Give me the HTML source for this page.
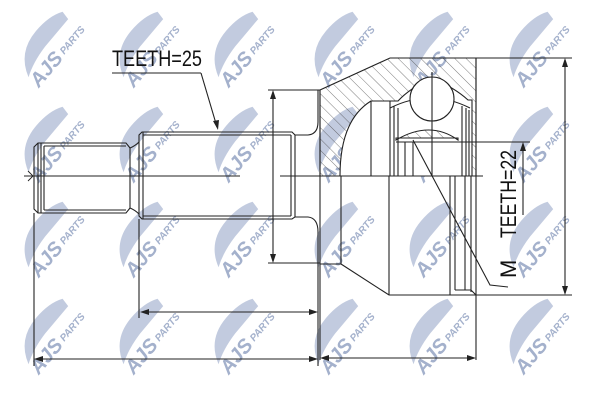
<!DOCTYPE html>
<html><head><meta charset="utf-8"><style>
html,body{margin:0;padding:0;background:#fff}
svg{display:block}
.wm text{font-family:"Liberation Sans",sans-serif;font-weight:bold;font-style:italic;fill:#a4b1cc}
</style></head><body>
<svg width="600" height="400" viewBox="0 0 600 400" xmlns="http://www.w3.org/2000/svg">
<defs>
<pattern id="hatch" width="8" height="8" patternUnits="userSpaceOnUse" patternTransform="rotate(-45)">
<line x1="0" y1="0" x2="0" y2="8" stroke="#444" stroke-width="0.7"/>
</pattern>
</defs>
<g class="wm">
<g transform="translate(55,55) rotate(-50)"><path d="M-34,-6 Q-22,-30 6,-30 Q26,-30 38,-22 L36,-13 L0,-13 Q-20,-12 -34,-6 Z" fill="#c2cbdf"/><text x="-36" y="9" font-size="20">AJS</text><text x="6" y="7" font-size="10">PARTS</text></g>
<g transform="translate(150,55) rotate(-50)"><path d="M-34,-6 Q-22,-30 6,-30 Q26,-30 38,-22 L36,-13 L0,-13 Q-20,-12 -34,-6 Z" fill="#c2cbdf"/><text x="-36" y="9" font-size="20">AJS</text><text x="6" y="7" font-size="10">PARTS</text></g>
<g transform="translate(245,55) rotate(-50)"><path d="M-34,-6 Q-22,-30 6,-30 Q26,-30 38,-22 L36,-13 L0,-13 Q-20,-12 -34,-6 Z" fill="#c2cbdf"/><text x="-36" y="9" font-size="20">AJS</text><text x="6" y="7" font-size="10">PARTS</text></g>
<g transform="translate(345,55) rotate(-50)"><path d="M-34,-6 Q-22,-30 6,-30 Q26,-30 38,-22 L36,-13 L0,-13 Q-20,-12 -34,-6 Z" fill="#c2cbdf"/><text x="-36" y="9" font-size="20">AJS</text><text x="6" y="7" font-size="10">PARTS</text></g>
<g transform="translate(440,55) rotate(-50)"><path d="M-34,-6 Q-22,-30 6,-30 Q26,-30 38,-22 L36,-13 L0,-13 Q-20,-12 -34,-6 Z" fill="#c2cbdf"/><text x="-36" y="9" font-size="20">AJS</text><text x="6" y="7" font-size="10">PARTS</text></g>
<g transform="translate(540,55) rotate(-50)"><path d="M-34,-6 Q-22,-30 6,-30 Q26,-30 38,-22 L36,-13 L0,-13 Q-20,-12 -34,-6 Z" fill="#c2cbdf"/><text x="-36" y="9" font-size="20">AJS</text><text x="6" y="7" font-size="10">PARTS</text></g>
<g transform="translate(55,150) rotate(-50)"><path d="M-34,-6 Q-22,-30 6,-30 Q26,-30 38,-22 L36,-13 L0,-13 Q-20,-12 -34,-6 Z" fill="#c2cbdf"/><text x="-36" y="9" font-size="20">AJS</text><text x="6" y="7" font-size="10">PARTS</text></g>
<g transform="translate(150,150) rotate(-50)"><path d="M-34,-6 Q-22,-30 6,-30 Q26,-30 38,-22 L36,-13 L0,-13 Q-20,-12 -34,-6 Z" fill="#c2cbdf"/><text x="-36" y="9" font-size="20">AJS</text><text x="6" y="7" font-size="10">PARTS</text></g>
<g transform="translate(245,150) rotate(-50)"><path d="M-34,-6 Q-22,-30 6,-30 Q26,-30 38,-22 L36,-13 L0,-13 Q-20,-12 -34,-6 Z" fill="#c2cbdf"/><text x="-36" y="9" font-size="20">AJS</text><text x="6" y="7" font-size="10">PARTS</text></g>
<g transform="translate(345,150) rotate(-50)"><path d="M-34,-6 Q-22,-30 6,-30 Q26,-30 38,-22 L36,-13 L0,-13 Q-20,-12 -34,-6 Z" fill="#c2cbdf"/><text x="-36" y="9" font-size="20">AJS</text><text x="6" y="7" font-size="10">PARTS</text></g>
<g transform="translate(440,150) rotate(-50)"><path d="M-34,-6 Q-22,-30 6,-30 Q26,-30 38,-22 L36,-13 L0,-13 Q-20,-12 -34,-6 Z" fill="#c2cbdf"/><text x="-36" y="9" font-size="20">AJS</text><text x="6" y="7" font-size="10">PARTS</text></g>
<g transform="translate(540,150) rotate(-50)"><path d="M-34,-6 Q-22,-30 6,-30 Q26,-30 38,-22 L36,-13 L0,-13 Q-20,-12 -34,-6 Z" fill="#c2cbdf"/><text x="-36" y="9" font-size="20">AJS</text><text x="6" y="7" font-size="10">PARTS</text></g>
<g transform="translate(55,245) rotate(-50)"><path d="M-34,-6 Q-22,-30 6,-30 Q26,-30 38,-22 L36,-13 L0,-13 Q-20,-12 -34,-6 Z" fill="#c2cbdf"/><text x="-36" y="9" font-size="20">AJS</text><text x="6" y="7" font-size="10">PARTS</text></g>
<g transform="translate(150,245) rotate(-50)"><path d="M-34,-6 Q-22,-30 6,-30 Q26,-30 38,-22 L36,-13 L0,-13 Q-20,-12 -34,-6 Z" fill="#c2cbdf"/><text x="-36" y="9" font-size="20">AJS</text><text x="6" y="7" font-size="10">PARTS</text></g>
<g transform="translate(245,245) rotate(-50)"><path d="M-34,-6 Q-22,-30 6,-30 Q26,-30 38,-22 L36,-13 L0,-13 Q-20,-12 -34,-6 Z" fill="#c2cbdf"/><text x="-36" y="9" font-size="20">AJS</text><text x="6" y="7" font-size="10">PARTS</text></g>
<g transform="translate(345,245) rotate(-50)"><path d="M-34,-6 Q-22,-30 6,-30 Q26,-30 38,-22 L36,-13 L0,-13 Q-20,-12 -34,-6 Z" fill="#c2cbdf"/><text x="-36" y="9" font-size="20">AJS</text><text x="6" y="7" font-size="10">PARTS</text></g>
<g transform="translate(440,245) rotate(-50)"><path d="M-34,-6 Q-22,-30 6,-30 Q26,-30 38,-22 L36,-13 L0,-13 Q-20,-12 -34,-6 Z" fill="#c2cbdf"/><text x="-36" y="9" font-size="20">AJS</text><text x="6" y="7" font-size="10">PARTS</text></g>
<g transform="translate(540,245) rotate(-50)"><path d="M-34,-6 Q-22,-30 6,-30 Q26,-30 38,-22 L36,-13 L0,-13 Q-20,-12 -34,-6 Z" fill="#c2cbdf"/><text x="-36" y="9" font-size="20">AJS</text><text x="6" y="7" font-size="10">PARTS</text></g>
<g transform="translate(55,342) rotate(-50)"><path d="M-34,-6 Q-22,-30 6,-30 Q26,-30 38,-22 L36,-13 L0,-13 Q-20,-12 -34,-6 Z" fill="#c2cbdf"/><text x="-36" y="9" font-size="20">AJS</text><text x="6" y="7" font-size="10">PARTS</text></g>
<g transform="translate(150,342) rotate(-50)"><path d="M-34,-6 Q-22,-30 6,-30 Q26,-30 38,-22 L36,-13 L0,-13 Q-20,-12 -34,-6 Z" fill="#c2cbdf"/><text x="-36" y="9" font-size="20">AJS</text><text x="6" y="7" font-size="10">PARTS</text></g>
<g transform="translate(245,342) rotate(-50)"><path d="M-34,-6 Q-22,-30 6,-30 Q26,-30 38,-22 L36,-13 L0,-13 Q-20,-12 -34,-6 Z" fill="#c2cbdf"/><text x="-36" y="9" font-size="20">AJS</text><text x="6" y="7" font-size="10">PARTS</text></g>
<g transform="translate(345,342) rotate(-50)"><path d="M-34,-6 Q-22,-30 6,-30 Q26,-30 38,-22 L36,-13 L0,-13 Q-20,-12 -34,-6 Z" fill="#c2cbdf"/><text x="-36" y="9" font-size="20">AJS</text><text x="6" y="7" font-size="10">PARTS</text></g>
<g transform="translate(440,342) rotate(-50)"><path d="M-34,-6 Q-22,-30 6,-30 Q26,-30 38,-22 L36,-13 L0,-13 Q-20,-12 -34,-6 Z" fill="#c2cbdf"/><text x="-36" y="9" font-size="20">AJS</text><text x="6" y="7" font-size="10">PARTS</text></g>
<g transform="translate(540,342) rotate(-50)"><path d="M-34,-6 Q-22,-30 6,-30 Q26,-30 38,-22 L36,-13 L0,-13 Q-20,-12 -34,-6 Z" fill="#c2cbdf"/><text x="-36" y="9" font-size="20">AJS</text><text x="6" y="7" font-size="10">PARTS</text></g>
</g>

<g fill="none" stroke="#222" stroke-width="1.1">
<path d="M34,147 L38,143 L126,143 L130,148 L130,208 L126,213 L38,213 L34,209 Z"/>
<line x1="38" y1="143" x2="38" y2="213"/><line x1="41" y1="143" x2="41" y2="213"/><line x1="44" y1="146" x2="44" y2="210"/>
<line x1="44" y1="146" x2="126" y2="146"/><line x1="44" y1="210" x2="126" y2="210"/>
<path d="M130,148 Q135,146 139,142 M130,208 Q135,210 139,214"/>
<path d="M139,135 L142,132 L292,132 L295,135 L295,217 L292,219 L142,219 L139,216 Z"/>
<line x1="143" y1="135" x2="291" y2="135"/><line x1="143" y1="216" x2="291" y2="216"/>
<line x1="291" y1="135" x2="291" y2="216"/><line x1="143" y1="132" x2="143" y2="219"/>
<path d="M295,135 L308,135 Q318,134 318,122 L318,90"/>
<path d="M295,217 L308,217 Q318,218 318,232"/>
<line x1="24" y1="176" x2="240" y2="176" stroke-width="0.9"/>
<line x1="280" y1="176" x2="330" y2="176" stroke-width="0.9"/>
<path d="M28,171 L33,176 L28,181" stroke-width="0.9"/>
<path d="M320,90 L320,176 L476,176 L476,58 L390,58 Z" fill="url(#hatch)"/>
<path d="M320,90 L320,360"/>
<path d="M390,58 L476,58 L476,360"/>
<line x1="320" y1="176" x2="483" y2="176"/>
<path d="M320,264 L341,264 L341,176"/>
<path d="M341,264 L389,295 L572,295"/>
<line x1="389" y1="176" x2="389" y2="295"/>
<line x1="450" y1="176" x2="450" y2="295"/><line x1="455" y1="176" x2="455" y2="290"/>
<line x1="465" y1="176" x2="465" y2="290"/><line x1="471" y1="176" x2="471" y2="292"/>
<path d="M455,290 L471,290 L476,295"/>
<path d="M340,176 Q340,120 371,101 L398,101 Q410,88 432,78 Q455,88 468,100 L472,100 L472,176 Z" fill="#fff"/>
<path d="M371,101 L371,176 M390,101 L390,176 M394,106 L394,176 M398,108 L398,176 M462,106 L462,176 M466,108 L466,176 M469,110 L469,176"/>
<path d="M396,140 Q430,120 458,140 L458,138 L396,138 Z" fill="url(#hatch)"/>
<line x1="396" y1="138" x2="458" y2="138"/><line x1="396" y1="142" x2="458" y2="142"/>
<line x1="405" y1="142" x2="405" y2="176"/><line x1="413" y1="142" x2="413" y2="176"/>
<path d="M390,108 Q430,88 470,108"/>
<circle cx="432" cy="99" r="22" fill="#fff"/>
<line x1="432" y1="72" x2="432" y2="176"/>
<line x1="415" y1="142" x2="530" y2="142" stroke-width="0.9"/>
<line x1="268" y1="90" x2="320" y2="90"/><line x1="268" y1="263" x2="320" y2="263"/>
<line x1="273" y1="92" x2="273" y2="261"/>
<line x1="476" y1="58" x2="572" y2="58"/>
<line x1="565" y1="60" x2="565" y2="293"/>
<line x1="523" y1="146" x2="523" y2="215"/>
<line x1="34" y1="213" x2="34" y2="366"/>
<line x1="139" y1="219" x2="139" y2="318"/>
<line x1="318" y1="232" x2="318" y2="366"/>
<line x1="142" y1="312" x2="316" y2="312"/>
<line x1="36" y1="359" x2="316" y2="359"/>
<line x1="322" y1="358" x2="474" y2="358"/>
<line x1="112" y1="73" x2="201" y2="73"/>
<line x1="201" y1="73" x2="217" y2="127"/>
<path d="M413,140 L490,285 L508,287"/>
</g>
<g fill="#222">
<path d="M273,90 L270,99 L276,99 Z"/><path d="M273,263 L270,254 L276,254 Z"/>
<path d="M565,58 L562,67 L568,67 Z"/><path d="M565,295 L562,286 L568,286 Z"/>
<path d="M523,142 L520,151 L526,151 Z"/>
<path d="M218,130 L213,121 L219,120 Z"/>
<path d="M140,312 L149,309 L149,315 Z"/><path d="M318,312 L309,309 L309,315 Z"/>
<path d="M34,359 L43,356 L43,362 Z"/><path d="M318,359 L309,356 L309,362 Z"/>
<path d="M320,358 L329,355 L329,361 Z"/><path d="M476,358 L467,355 L467,361 Z"/>
</g>
<g font-family="Liberation Sans Narrow, Liberation Sans, sans-serif" fill="#111">
<text x="112" y="66" font-size="22" textLength="90" lengthAdjust="spacingAndGlyphs">TEETH=25</text>
<text transform="translate(516,238) rotate(-90)" font-size="22" textLength="88" lengthAdjust="spacingAndGlyphs">TEETH=22</text>
<text transform="translate(516,278) rotate(-90)" font-size="22">M</text>
</g>
</svg>
</body></html>
